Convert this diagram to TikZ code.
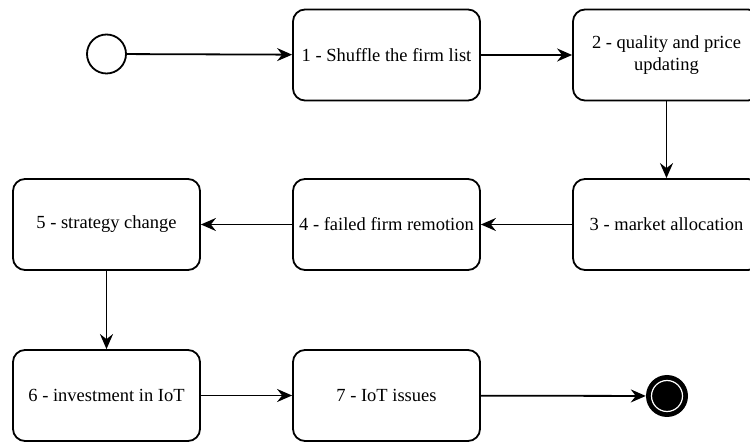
\documentclass[tikz,border=0pt]{standalone}
\usepackage{fontspec}
\setmainfont{Liberation Serif}
\usetikzlibrary{arrows.meta}
\begin{document}
\begin{tikzpicture}[x=1pt,y=-1pt,
  stepbox/.style={draw, line width=1.8pt, rounded corners=12pt, minimum width=187pt, minimum height=91pt, align=center, font=\fontsize{18.5}{22}\selectfont, inner sep=0pt},
  conn/.style={line width=1.8pt, -{Stealth[length=15pt, width=13pt, inset=5pt]}}]
\useasboundingbox (0,0) rectangle (750,443);
\node[draw, circle, line width=1.8pt, minimum size=39pt, inner sep=0pt] (start) at (106.5,54) {};
\node[stepbox] (s1) at (386.5,55) {1 - Shuffle the firm list};
\node[stepbox] (s2) at (666.5,55) {2 - quality and price\\updating};
\node[stepbox] (s3) at (666.5,224.5) {3 - market allocation};
\node[stepbox] (s4) at (386.5,224.5) {4 - failed firm remotion};
\node[stepbox] (s5) at (106.5,224.5) {5 - strategy change};
\node[stepbox] (s6) at (106.5,395.5) {6 - investment in IoT};
\node[stepbox] (s7) at (386.5,395.5) {7 - IoT issues};
\node[circle, fill=black, minimum size=42pt, inner sep=0pt] (end) at (667,396) {};
\node[circle, draw=white, line width=1.2pt, fill=black, minimum size=31pt, inner sep=0pt] (endin) at (667,396) {};
\draw[conn] (start) -- (s1);
\draw[conn] (s1) -- (s2);
\draw[conn] (s2) -- (s3);
\draw[conn] (s3) -- (s4);
\draw[conn] (s4) -- (s5);
\draw[conn] (s5) -- (s6);
\draw[conn] (s6) -- (s7);
\draw[conn] (s7) -- (end);
\end{tikzpicture}
\end{document}
